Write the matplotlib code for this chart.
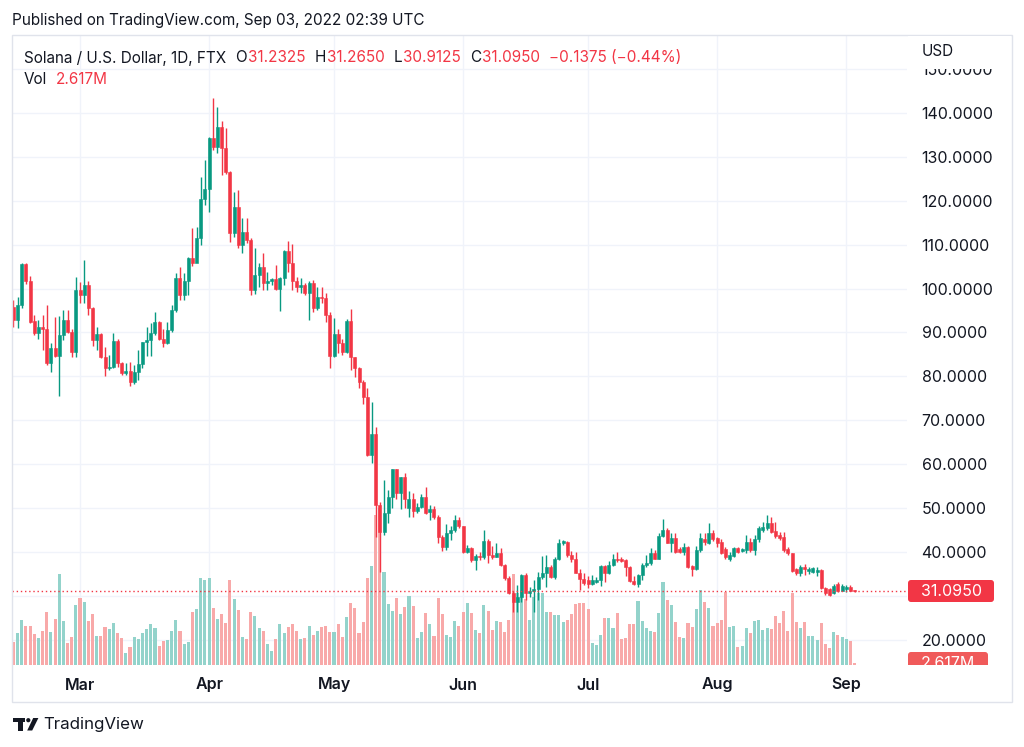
import numpy as np
import pandas as pd
import matplotlib
matplotlib.use("Agg")
import matplotlib.pyplot as plt
import matplotlib.dates as mdates
import matplotlib.transforms as mtransforms
from matplotlib.patches import Rectangle, FancyBboxPatch, Polygon, Circle

plt.rcParams['font.family'] = ['Inter', 'DejaVu Sans']

# ---- data: SOL/USD daily, FTX, from 2022-02-13 to 2022-09-03 ----
start = "2022-02-13"
opens = [95.9, 92.8, 96.2, 105.6, 101.8, 92.6, 89.8, 91.2, 90.7, 83.0,
         86.4, 84.6, 89.3, 92.8, 90.2, 85.6, 99.7, 98.5, 100.8, 95.5,
         88.3, 89.6, 84.5, 81.8, 82.2, 88.1, 83.0, 80.8, 81.3, 78.8,
         81.0, 82.8, 87.9, 88.3, 89.8, 92.4, 88.4, 87.6, 90.5, 95.0,
         102.3, 98.5, 101.8, 106.9, 105.7, 111.4, 120.5, 122.6, 134.4, 132.3,
         136.7, 131.9, 126.6, 112.7, 118.5, 109.9, 112.9, 111.0, 99.7, 103.1,
         105.0, 101.2, 101.6, 102.1, 100.0, 102.3, 108.6, 105.7, 101.6, 100.4,
         100.8, 98.9, 101.2, 95.5, 98.1, 97.9, 94.0, 84.6, 89.6, 87.5,
         85.6, 92.7, 84.5, 81.8, 78.8, 75.4, 62.1, 66.9, 50.7, 44.6,
         48.9, 52.4, 58.8, 53.5, 57.0, 49.9, 52.0, 49.4, 50.3, 52.4,
         49.2, 49.7, 47.9, 43.5, 41.2, 44.2, 45.0, 47.3, 45.8, 40.05,
         40.8, 38.2, 39.1, 38.8, 42.6, 39.3, 38.9, 39.8, 37.0, 34.0,
         30.7, 28.7, 29.8, 34.7, 30.6, 31.0, 31.6, 34.2, 35.3, 36.6,
         34.2, 38.5, 42.1, 42.3, 39.3, 38.3, 35.3, 33.8, 33.6, 32.8,
         33.2, 33.6, 36.8, 35.3, 37.0, 38.5, 38.3, 38.1, 36.6, 33.4,
         32.8, 34.7, 37.0, 37.4, 39.7, 38.5, 43.6, 45.0, 42.1, 43.1,
         40.6, 40.05, 41.2, 36.8, 36.0, 40.4, 42.9, 42.1, 44.2, 43.1,
         42.3, 40.6, 38.5, 39.1, 40.8, 40.3, 40.4, 42.3, 40.4, 42.9,
         45.0, 45.4, 46.7, 44.8, 43.8, 43.3, 40.6, 39.7, 36.0, 35.3,
         36.6, 35.7, 35.5, 35.4, 35.9, 31.7, 31.5, 30.6, 32.6, 31.2,
         31.6, 32.1, 31.2325]
highs = [97.4, 98.0, 105.9, 105.9, 102.8, 94.0, 92.8, 93.9, 96.2, 87.5,
         93.4, 93.7, 95.0, 95.1, 90.7, 102.7, 101.5, 106.5, 101.6, 95.9,
         91.2, 89.8, 86.6, 84.9, 89.8, 88.6, 83.3, 83.0, 83.3, 82.6,
         86.0, 87.9, 91.2, 92.2, 94.7, 92.6, 90.7, 92.4, 96.3, 103.6,
         105.0, 103.5, 107.2, 113.7, 114.1, 125.3, 129.3, 134.6, 143.3, 141.3,
         138.2, 136.5, 126.8, 122.1, 122.4, 116.0, 116.0, 111.5, 109.2, 105.9,
         108.0, 103.8, 102.3, 105.3, 102.7, 108.8, 110.9, 110.1, 102.7, 102.3,
         101.2, 101.6, 101.9, 100.4, 100.4, 98.9, 94.7, 93.2, 90.7, 88.6,
         93.0, 95.3, 84.5, 82.2, 79.2, 77.3, 74.2, 68.4, 51.3, 56.4,
         54.1, 59.0, 58.8, 57.0, 57.9, 53.9, 53.5, 51.1, 53.2, 54.7,
         50.7, 50.5, 48.4, 43.8, 46.3, 45.9, 48.4, 48.0, 46.0, 41.6,
         41.2, 39.5, 40.05, 45.0, 42.9, 41.3, 42.0, 41.0, 37.3, 34.5,
         31.0, 32.5, 35.0, 35.2, 32.0, 33.5, 35.5, 39.1, 39.3, 37.0,
         38.8, 42.9, 42.7, 42.5, 40.1, 40.05, 36.0, 35.3, 34.4, 34.7,
         34.2, 37.0, 37.0, 38.0, 39.5, 40.05, 38.9, 38.3, 36.8, 34.5,
         35.0, 37.4, 39.3, 40.8, 40.4, 44.2, 47.6, 45.4, 44.2, 44.2,
         41.2, 42.1, 41.3, 37.0, 41.3, 44.2, 44.4, 46.7, 45.1, 43.5,
         42.9, 41.2, 40.05, 41.2, 41.2, 41.0, 43.8, 43.1, 43.8, 45.8,
         46.9, 48.4, 48.0, 46.9, 44.6, 44.6, 41.2, 39.8, 36.3, 37.0,
         37.2, 36.6, 36.6, 36.6, 36.1, 32.1, 31.7, 32.7, 33.2, 32.8,
         32.4, 32.5, 31.265]
lows = [91.3, 90.9, 95.5, 101.0, 92.2, 89.4, 88.6, 86.0, 82.6, 81.0,
        84.5, 75.5, 88.3, 89.8, 84.3, 84.3, 96.6, 96.6, 93.9, 86.9,
        86.1, 84.1, 80.0, 81.4, 81.8, 82.2, 80.3, 80.3, 77.8, 78.2,
        79.1, 81.8, 84.6, 84.6, 89.4, 88.3, 86.7, 87.4, 90.2, 94.7,
        97.4, 97.4, 98.5, 105.2, 107.2, 110.0, 119.0, 117.5, 131.6, 130.8,
        125.9, 126.2, 110.7, 111.8, 109.2, 108.2, 110.3, 98.5, 98.7, 100.4,
        99.7, 99.7, 100.8, 99.7, 94.8, 100.8, 103.8, 99.7, 99.3, 98.9,
        98.5, 92.8, 94.7, 95.1, 96.6, 92.4, 81.8, 84.3, 85.4, 84.9,
        85.4, 81.4, 79.9, 77.3, 73.8, 61.8, 60.2, 43.5, 35.5, 43.8,
        46.5, 49.9, 52.0, 49.7, 49.9, 48.0, 47.9, 48.8, 49.9, 48.6,
        47.3, 47.6, 42.0, 40.1, 40.4, 42.7, 44.6, 45.4, 39.7, 39.7,
        37.8, 35.9, 38.2, 38.5, 37.4, 38.5, 38.8, 36.7, 33.6, 30.5,
        26.4, 26.4, 28.7, 29.0, 29.8, 26.2, 29.0, 33.9, 32.1, 34.0,
        33.8, 38.2, 41.5, 38.9, 37.8, 35.1, 31.3, 32.5, 31.7, 32.5,
        33.0, 32.2, 33.2, 35.0, 36.8, 37.8, 37.8, 34.4, 33.2, 32.5,
        31.9, 33.6, 36.6, 37.0, 38.3, 38.3, 43.3, 42.0, 40.05, 39.7,
        39.7, 39.3, 36.4, 34.5, 35.9, 40.05, 41.6, 41.8, 42.6, 41.2,
        39.5, 38.3, 38.0, 38.8, 39.8, 40.0, 39.8, 40.05, 39.3, 42.3,
        44.6, 45.0, 44.2, 43.1, 42.8, 40.05, 39.3, 35.5, 34.8, 34.4,
        34.8, 34.9, 35.2, 34.5, 31.5, 30.2, 29.9, 30.4, 30.9, 31.0,
        30.8, 31.0, 30.9125]
closes = [92.8, 96.2, 105.6, 101.8, 92.4, 89.8, 91.2, 90.7, 83.0, 86.4,
          84.6, 89.3, 92.8, 90.2, 85.6, 99.7, 98.5, 100.8, 95.5, 88.3,
          89.6, 84.5, 81.8, 82.2, 88.1, 83.0, 80.8, 81.3, 78.8, 81.0,
          82.8, 87.9, 88.3, 89.8, 92.4, 88.4, 87.6, 90.5, 95.0, 102.3,
          98.5, 101.8, 106.9, 105.7, 111.4, 120.5, 122.6, 134.4, 132.3, 136.7,
          131.9, 126.6, 112.7, 118.5, 109.9, 112.9, 111.0, 99.7, 103.1, 105.0,
          101.2, 101.6, 102.1, 100.0, 102.3, 108.6, 105.7, 101.6, 100.4, 100.8,
          98.9, 101.2, 95.5, 98.1, 97.9, 94.0, 84.6, 89.6, 87.5, 85.6,
          92.7, 84.5, 81.8, 78.8, 75.4, 62.1, 66.9, 50.7, 44.6, 48.9,
          52.4, 58.8, 53.5, 57.0, 52.0, 52.0, 49.4, 50.3, 52.4, 48.9,
          49.7, 47.9, 43.5, 41.2, 44.2, 45.0, 47.3, 45.8, 40.05, 40.8,
          38.2, 39.1, 38.8, 42.6, 39.3, 38.9, 39.8, 37.0, 34.0, 30.7,
          28.7, 29.8, 34.7, 30.6, 31.0, 31.6, 34.2, 35.3, 36.6, 34.2,
          38.5, 42.1, 42.5, 39.3, 38.3, 35.3, 33.8, 33.0, 32.8, 33.6,
          33.7, 36.8, 35.3, 37.0, 38.5, 38.2, 38.0, 36.6, 33.4, 32.8,
          34.7, 37.0, 37.4, 39.7, 38.5, 43.6, 45.0, 42.1, 43.1, 40.05,
          40.05, 41.2, 36.6, 36.0, 40.4, 43.1, 42.3, 44.2, 42.9, 42.1,
          39.7, 38.8, 39.3, 40.8, 40.05, 40.6, 42.3, 40.4, 42.9, 45.4,
          45.6, 46.7, 44.6, 43.6, 43.1, 40.4, 39.7, 35.7, 35.3, 36.6,
          36.1, 36.2, 36.3, 35.9, 31.7, 30.6, 30.2, 32.2, 31.2, 32.2,
          31.9, 31.2, 31.095]
volumes = [25.6, 34.9, 49.5, 42.9, 43.2, 34.1, 29.4, 37.7, 58.6, 36.6,
           50.3, 100.1, 48.7, 24.5, 31.1, 66.0, 74.0, 69.0, 48.7, 55.8,
           31.9, 31.9, 42.1, 39.6, 46.5, 35.5, 29.4, 13.5, 19.5, 31.1,
           28.3, 34.9, 39.3, 45.1, 41.0, 20.9, 26.7, 27.5, 37.7, 49.5,
           37.7, 22.8, 25.6, 58.6, 61.6, 95.4, 93.5, 96.0, 62.4, 50.3,
           55.8, 45.9, 93.5, 72.3, 60.5, 31.1, 28.3, 58.0, 53.9, 40.4,
           37.4, 23.1, 15.4, 28.3, 44.8, 34.9, 42.1, 44.8, 37.4, 28.3,
           30.0, 43.2, 33.0, 37.4, 41.5, 42.9, 36.6, 36.6, 44.8, 31.1,
           52.8, 67.9, 62.7, 34.9, 47.6, 95.7, 108.9, 165.0, 172.7, 102.3,
           66.8, 59.4, 73.7, 55.6, 63.8, 75.9, 64.9, 29.7, 36.3, 57.2,
           45.1, 31.9, 73.4, 55.6, 32.7, 30.5, 48.4, 42.9, 58.6, 68.5,
           56.9, 38.5, 34.9, 66.0, 59.4, 38.5, 48.4, 47.6, 36.6, 49.5,
           99.8, 78.9, 80.6, 72.3, 49.5, 74.5, 79.5, 79.5, 58.6, 58.0,
           55.0, 55.0, 47.0, 49.5, 56.1, 66.8, 67.9, 67.9, 61.3, 24.5,
           22.0, 33.0, 51.4, 51.4, 40.4, 56.9, 28.3, 29.4, 44.8, 44.8,
           70.4, 48.4, 41.0, 37.4, 36.6, 56.9, 91.0, 71.5, 66.0, 47.6,
           31.1, 29.4, 46.5, 42.1, 61.3, 82.5, 69.6, 63.0, 42.9, 46.5,
           49.5, 80.6, 41.5, 43.2, 19.5, 20.9, 40.4, 34.9, 48.4, 49.5,
           38.5, 40.4, 39.6, 53.9, 45.9, 59.4, 37.7, 78.9, 47.6, 40.4,
           47.6, 31.9, 31.9, 27.5, 46.5, 23.1, 18.4, 36.6, 33.0, 30.5,
           28.3, 26.7, 2.617]
price_ticks = [20, 30, 40, 50, 60, 70, 80, 90, 100, 110, 120, 130, 140, 150]
month_starts = ["2022-03-01", "2022-04-01", "2022-05-01", "2022-06-01",
                "2022-07-01", "2022-08-01", "2022-09-01"]
last_price = 31.095
last_vol = "2.617M"

UP, DOWN = "#089981", "#f23645"
VUP, VDOWN = "#93d3cb", "#f8a9a9"
GRID = "#f0f3fa"
TXT = "#131722"

W, H = 1024, 747
fig = plt.figure(figsize=(W / 100, H / 100), dpi=100)
PL, PR, PT, PB = 12, 907, 35, 665
rect = [PL / W, 1 - PB / H, (PR - PL) / W, (PB - PT) / H]

dates = pd.date_range(start, periods=len(closes), freq="D")
x = mdates.date2num(dates)
o, h, l, c = map(np.array, (opens, highs, lows, closes))
up = c >= o

# volume pane (bottom layer, also carries the grid)
vax = fig.add_axes(rect, zorder=0)
ax = fig.add_axes(rect, zorder=1)
ax.patch.set_alpha(0)
for a in (vax, ax):
    a.set_xlim(x[0] - 0.34, x[0] + 214.6)
    for s in a.spines.values():
        s.set_visible(False)
ax.set_ylim(14.24, 157.75)
vax.set_ylim(0, 693)
vax.set_yticks([])
vax.set_xticks([])

gtr = mtransforms.blended_transform_factory(vax.transAxes, ax.transData)
for p in price_ticks:
    vax.plot([0, 1], [p, p], color=GRID, lw=1, transform=gtr, zorder=0)
mx = mdates.date2num(pd.to_datetime(month_starts))
for m in mx:
    vax.axvline(m, color=GRID, lw=1, zorder=0)

vax.bar(x, volumes, width=0.74, color=np.where(up, VUP, VDOWN), zorder=1)

# candles
cols = np.where(up, UP, DOWN)
ax.vlines(x, l, h, colors=cols, lw=1, zorder=2)
ax.bar(x, np.abs(c - o), bottom=np.minimum(o, c), width=0.72, color=cols,
       edgecolor=cols, lw=0.4, zorder=3)
ax.axhline(last_price, color=DOWN, lw=1, ls=(0, (1, 2)), zorder=4)

# the 30 label sits under the last-price tag, so it is left blank
ax.yaxis.tick_right()
ax.set_yticks(price_ticks)
ax.set_yticklabels(["" if abs(p - last_price) < 5 else f"{p:.4f}" for p in price_ticks])
ax.tick_params(axis="y", length=0, pad=10.5, labelsize=11.5, labelcolor=TXT)
ax.set_xticks(mx)
ax.set_xticklabels([d.strftime("%b") for d in pd.to_datetime(month_starts)],
                   fontweight="semibold")
ax.tick_params(axis="x", length=0, pad=9, labelsize=11.5, labelcolor=TXT)

# overlay in pixel coordinates
ov = fig.add_axes([0, 0, 1, 1], zorder=5)
ov.set_xlim(0, W)
ov.set_ylim(H, 0)
ov.axis("off")
ov.patch.set_alpha(0)

ov.add_patch(Rectangle((PL, PT), 1000, 667, fc="none", ec="#e0e3eb", lw=1))
ov.add_patch(Rectangle((PR + 1, PT + 1), 103, 32.5, fc="white", ec="none"))
ov.text(922, 52, "USD", fontsize=11, color=TXT, va="center")

ov.add_patch(FancyBboxPatch((908, 580), 86, 22, boxstyle="round,pad=0,rounding_size=3",
                            fc=DOWN, ec="none"))
ov.text(951, 591.5, f"{last_price:.4f}", color="white", fontsize=11.5,
        ha="center", va="center")
clip = Rectangle((PR, PT), 105, PB - PT, transform=ov.transData)
vt = FancyBboxPatch((908, 652), 80, 22, boxstyle="round,pad=0,rounding_size=3",
                    fc="#f05a5a", ec="none")
ov.add_patch(vt)
vt.set_clip_path(clip)
t = ov.text(948, 664, last_vol, color="white", fontsize=11.5, ha="center", va="center")
t.set_clip_path(clip)

ov.text(12, 21, "Published on TradingView.com, Sep 03, 2022 02:39 UTC",
        fontsize=11.0, color=TXT, va="center")

# legend rows laid out left to right
fig.canvas.draw()
rend = fig.canvas.get_renderer()


def row(items, x0, y):
    xx = x0
    for txt, col, gap in items:
        tt = ov.text(xx, y, txt, fontsize=11.0, color=col, va="center")
        bb = tt.get_window_extent(rend)
        xx = bb.x1 + gap


row([("Solana / U.S. Dollar, 1D, FTX", TXT, 9),
     ("O", TXT, 1), ("31.2325", DOWN, 9),
     ("H", TXT, 1), ("31.2650", DOWN, 9),
     ("L", TXT, 1), ("30.9125", DOWN, 9),
     ("C", TXT, 1), ("31.0950", DOWN, 9),
     ("\u22120.1375 (\u22120.44%)", DOWN, 0)], 24, 58)
row([("Vol", TXT, 9), (last_vol, DOWN, 0)], 24, 80)

# TradingView footer
ov.add_patch(Polygon([(13, 718), (24.5, 718), (24.5, 722), (22.6, 722), (22.6, 730.5),
                      (18.4, 730.5), (18.4, 722), (13, 722)], closed=True, fc=TXT, ec="none"))
ov.add_patch(Circle((28.3, 720.2), 2.1, fc=TXT, ec="none"))
ov.add_patch(Polygon([(33.2, 718), (38.4, 718), (32.2, 730.5), (27.2, 730.5)],
                     closed=True, fc=TXT, ec="none"))
ov.text(43, 724, "TradingView", fontsize=12.2, color=TXT, va="center")

fig.savefig("out.png", dpi=100)
